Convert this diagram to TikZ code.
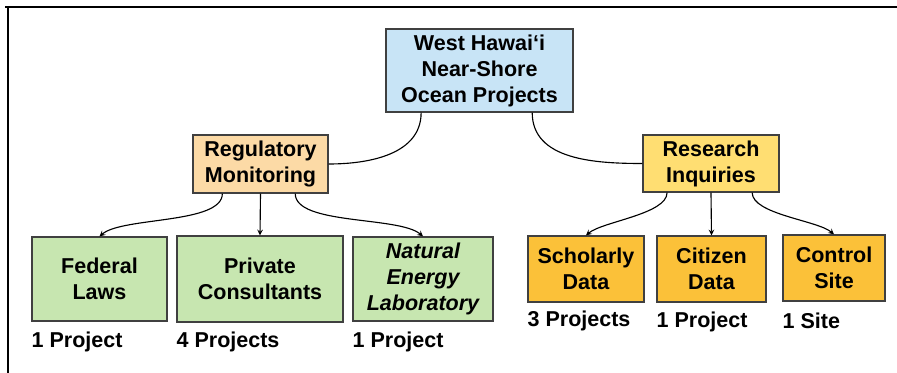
\documentclass[tikz,border=0pt]{standalone}
\usepackage{fontspec}
\setmainfont{Liberation Sans}
\usepackage{tikz}
\usetikzlibrary{calc}
\usetikzlibrary{positioning, arrows}

\definecolor{rootblue}{HTML}{C8E4F6}
\definecolor{regorange}{HTML}{FCDAA6}
\definecolor{resyellow}{HTML}{FFDE72}
\definecolor{leafgreen}{HTML}{C7E6B0}
\definecolor{leafgold}{HTML}{FBC139}

\begin{document}
\begin{tikzpicture}[x=0.025cm, y=-0.025cm,
        box/.style={draw=black!75, line width=0.9pt, inner sep=0pt, align=center,
            font=\fontsize{15.3}{18.5}\selectfont\bfseries},
        count/.style={anchor=west, inner sep=0pt, font=\fontsize{15.3}{18.5}\selectfont\bfseries},
        link/.style={line width=0.8pt},
        >=stealth]
            \useasboundingbox (0,0) rectangle (897,373);
            % frame
            \draw[line width=1.4pt] (5,7) -- (897,7);
            \draw[line width=1.4pt] (8,7) -- (8,373);

            % top and middle boxes
            \node[box, fill=rootblue, minimum width=4.675cm, minimum height=2.075cm] (root) at (479.5,70.5) {West Hawai‘i\\Near-Shore\\Ocean Projects};
            \node[box, fill=regorange, minimum width=3.375cm, minimum height=1.45cm] (reg) at (260.5,164) {Regulatory\\Monitoring};
            \node[box, fill=resyellow, minimum width=3.4cm, minimum height=1.425cm] (res) at (711,163.5) {Research\\Inquiries};

            % leaves
            \node[box, fill=leafgreen, minimum width=3.375cm, minimum height=2.1cm] (fed) at (99.5,279) {Federal\\Laws};
            \node[box, fill=leafgreen, minimum width=4.15cm, minimum height=2.15cm] (priv) at (260,279) {Private\\Consultants};
            \node[box, fill=leafgreen, minimum width=3.5cm, minimum height=2.1cm] (nat) at (423,279) {\itshape Natural\\\itshape Energy\\\itshape Laboratory};
            \node[box, fill=leafgold, minimum width=2.9cm, minimum height=1.65cm] (schol) at (586,269) {Scholarly\\Data};
            \node[box, fill=leafgold, minimum width=2.725cm, minimum height=1.65cm] (cit) at (711.5,269) {Citizen\\Data};
            \node[box, fill=leafgold, minimum width=2.55cm, minimum height=1.65cm] (ctrl) at (834,268) {Control\\Site};

            % counts
            \node[count] (fedn) at (fed.west |- 0,342) {1 Project};
            \node[count] (privn) at (priv.west |- 0,342) {4 Projects};
            \node[count] (natn) at (nat.west |- 0,342) {1 Project};
            \node[count] (scholn) at (schol.west |- 0,321) {3 Projects};
            \node[count] (citn) at (cit.west |- 0,322) {1 Project};
            \node[count] (ctrln) at (ctrl.west |- 0,321) {1 Site};

            % connectors
            \draw[link] ($(root.south west)!0.19!(root.south east)$) to[out=-90, in=0] (reg.east);
            \draw[link] ($(root.south west)!0.78!(root.south east)$) to[out=-90, in=180] (res.west);
            \draw[link, ->] ($(reg.south west)!0.22!(reg.south east)$) to[out=-90, in=40, looseness=0.6] (fed.north);
            \draw[link, ->] (reg.south) -- (priv.north);
            \draw[link, ->] ($(reg.south west)!0.755!(reg.south east)$) to[out=-90, in=140, looseness=0.6] (nat.north);
            \draw[link, ->] ($(res.south west)!0.18!(res.south east)$) to[out=-90, in=40, looseness=0.6] (schol.north);
            \draw[link, ->] (res.south) -- (cit.north);
            \draw[link, ->] ($(res.south west)!0.80!(res.south east)$) to[out=-90, in=140, looseness=0.6] (ctrl.north);
        \end{tikzpicture}
\end{document}
